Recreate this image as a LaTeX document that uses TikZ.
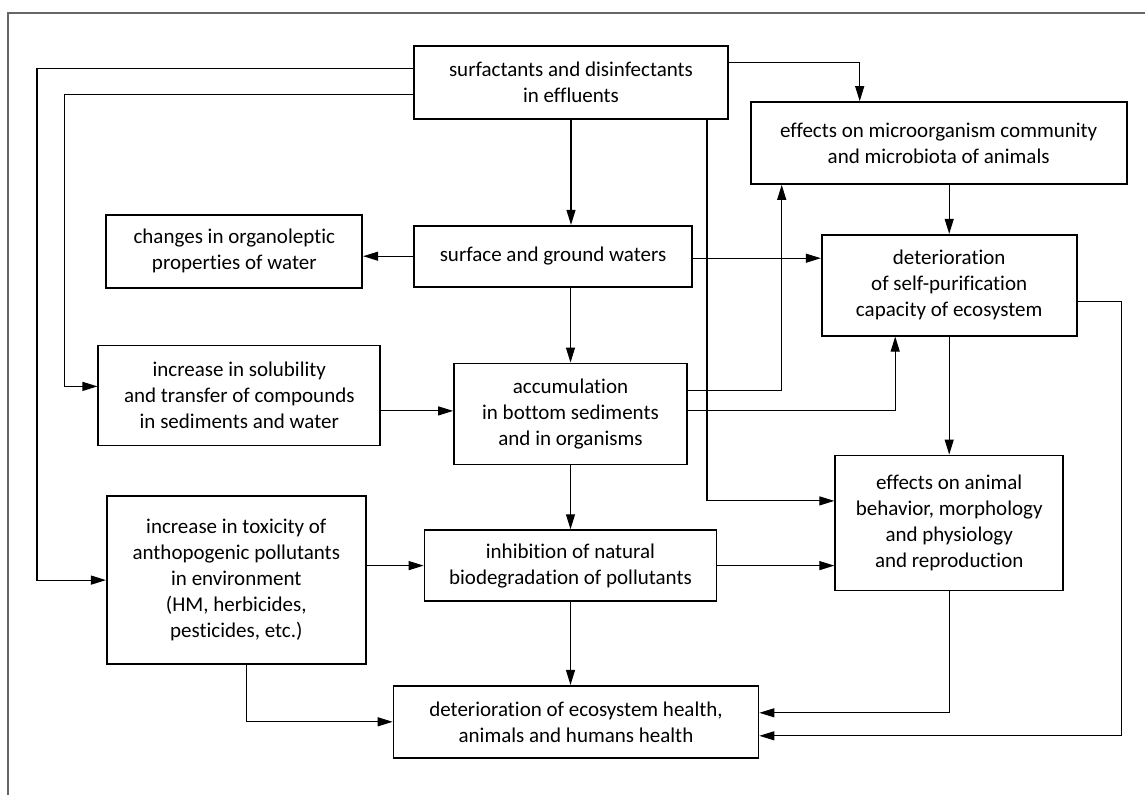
\documentclass[tikz,border=0pt]{standalone}
\usepackage{fontspec}
\setmainfont{Carlito}[Ligatures=NoCommon]
\usepackage{tikz}
\usetikzlibrary{arrows.meta,positioning,calc}

\begin{document}
\begin{tikzpicture}[
  x=1pt, y=-1pt,
  effect/.style={rectangle, draw, line width=1.7pt, align=center, inner sep=2pt,
                 font=\fontsize{21}{26}\selectfont},
  arrow/.style={-{Triangle[length=15pt,width=9pt]}, line width=1.1pt}
]
  \useasboundingbox (0,0) rectangle (1145,795);
  % frame
  \draw[line width=1.6pt, black!60] (1145,13) -- (8,13) -- (8,795);

  % Nodes
  \node[effect, minimum width=314pt, minimum height=73pt] (src) at (571,82.5)
    {surfactants and disinfectants\\in effluents};
  \node[effect, minimum width=278pt, minimum height=61pt, below=105pt of src, xshift=-18pt] (waters)
    {surface and ground waters};
  \node[effect, minimum width=233pt, minimum height=101pt, below=75pt of waters, xshift=17.5pt] (accum)
    {accumulation\\in bottom sediments\\and in organisms};
  \node[effect, minimum width=292pt, minimum height=71pt, below=64pt of accum] (inhib)
    {inhibition of natural\\biodegradation of pollutants};
  \node[effect, minimum width=365pt, minimum height=72pt, below=83pt of inhib, xshift=5.5pt] (health)
    {deterioration of ecosystem health,\\animals and humans health};
  \node[effect, minimum width=256pt, minimum height=73pt, left=50pt of waters, yshift=5pt] (organo)
    {changes in organoleptic\\properties of water};
  \node[effect, minimum width=282pt, minimum height=100pt, left=72pt of accum, yshift=18.5pt] (solub)
    {increase in solubility\\and transfer of compounds\\in sediments and water};
  \node[effect, minimum width=259pt, minimum height=168pt, left=57pt of inhib, yshift=-14.5pt] (toxic)
    {increase in toxicity of\\anthopogenic pollutants\\in environment\\(HM, herbicides,\\pesticides, etc.)};
  \node[effect, minimum width=376pt, minimum height=82pt, right=21pt of src, yshift=-60.5pt] (micro)
    {effects on microorganism community\\and microbiota of animals};
  \node[effect, minimum width=255pt, minimum height=101pt, below=49pt of micro, xshift=10.5pt] (selfpur)
    {deterioration\\of self-purification\\capacity of ecosystem};
  \node[effect, minimum width=228pt, minimum height=135pt, below=118pt of selfpur] (animal)
    {effects on animal\\behavior, morphology\\and physiology\\and reproduction};

  % Main column
  \draw[arrow] (src) -- (src |- waters.north);
  \draw[arrow] (accum |- waters.south) -- (accum);
  \draw[arrow] (accum) -- (inhib);
  \draw[arrow] (inhib) -- (inhib |- health.north);
  % Left side
  \draw[arrow] (waters) -- (waters -| organo.east);
  \draw[arrow] ([yshift=3pt]accum.west -| solub.east) -- ([yshift=3pt]accum.west);
  \draw[arrow] (toxic.east |- inhib) -- (inhib);
  \draw[arrow] ([xshift=10pt]toxic.south) |- (health);
  \draw[arrow] ([yshift=14pt]src.west) -| ([xshift=-69pt]toxic.west) -- (toxic.west);
  \draw[arrow] ([yshift=-12pt]src.west) -| ([xshift=-33pt,yshift=9pt]solub.west) -- ([yshift=9pt]solub.west);
  % Right side
  \draw[arrow] ([yshift=20pt]src.east) -| ([xshift=-79pt]micro.north);
  \draw[arrow] ([xshift=136pt]src.south) |- ([yshift=22pt]animal.west);
  \draw[arrow] ([yshift=-2pt]waters.east) -- ([yshift=-2pt]waters.east -| selfpur.west);
  \draw[arrow] ([yshift=23pt]accum.east) -| ([xshift=-157pt]micro.south);
  \draw[arrow] ([yshift=3pt]accum.east) -| ([xshift=-54pt]selfpur.south);
  \draw[arrow] (micro.south -| selfpur) -- (selfpur);
  \draw[arrow] (selfpur) -- (animal);
  \draw[arrow] (inhib) -- (inhib -| animal.west);
  \draw[arrow] (animal.south) |- ([yshift=9pt]health.east);
  \draw[arrow] ([yshift=-16pt]selfpur.east) -- ++(44pt,0) |- ([yshift=-14pt]health.east);
\end{tikzpicture}
\end{document}
